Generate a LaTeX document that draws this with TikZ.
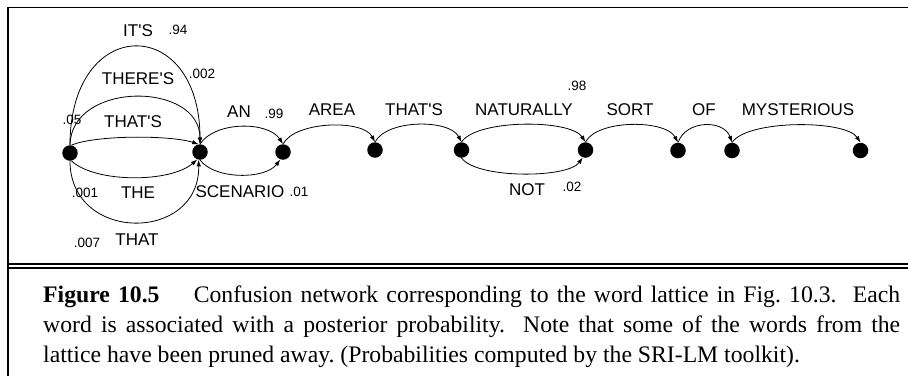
\documentclass[tikz,border=0pt]{standalone}
\usepackage{fontspec}
\setmainfont{Liberation Serif}
\newfontfamily\lblfont{Liberation Sans}
\usetikzlibrary{arrows.meta}
\frenchspacing
\begin{document}
\begin{tikzpicture}[x=1pt,y=-1pt,
  stn/.style={circle,fill=black,inner sep=0pt,minimum size=15.5pt},
  wd/.style={font=\lblfont\fontsize{17}{17}\selectfont,inner sep=0pt},
  pr/.style={font=\lblfont\fontsize{13.5}{13.5}\selectfont,inner sep=0pt},
  edg/.style={line width=0.8pt,-{Latex[length=6.5pt,width=4.5pt]}},
  rulel/.style={line width=1.9pt},
  captext/.style={font=\fontsize{23.7}{30}\selectfont,inner sep=0pt,anchor=base west}]
\useasboundingbox (0,0) rectangle (908,376);
% frame
\draw[rulel] (8,376) -- (8,7.5) -- (908,7.5);
\draw[rulel] (8,263.7) -- (908,263.7);
\draw[rulel] (8,267.8) -- (908,267.8);
% states
\node[stn] (n0) at (70,153) {};
\node[stn] (n1) at (200,152) {};
\node[stn] (n2) at (283,152) {};
\node[stn] (n3) at (375,150) {};
\node[stn] (n4) at (461.5,150) {};
\node[stn] (n5) at (585.5,150) {};
\node[stn] (n6) at (678,150.5) {};
\node[stn] (n7) at (732,150.5) {};
\node[stn] (n8) at (860.5,150.5) {};
% edges n0 -> n1
\draw[edg] (n0.north) .. controls (70,14) and (200,14) .. (n1.north);
\draw[edg] (n0.north) .. controls (71,81) and (200,81) .. (n1.north);
\draw[edg] (n0.80) .. controls (95,135) and (170,135) .. (n1.100);
\draw[edg] (n0.-80) .. controls (95,183) and (170,183) .. (n1.-110);
\draw[edg] (n0.south) .. controls (70,243) and (200,243) .. (n1.-100);
% edges n1 -> n2
\draw[edg] (n1.north) .. controls +(15,-23) and +(-15,-23) .. (n2.north);
\draw[edg] (n1.south) .. controls +(15,20) and +(-15,20) .. (n2.-110);
% chain
\draw[edg] (n2.north) .. controls +(12,-23) and +(-12,-23) .. (n3.north);
\draw[edg] (n3.north) .. controls +(12,-23) and +(-12,-23) .. (n4.north);
\draw[edg] (n4.north) .. controls +(15,-23) and +(-15,-23) .. (n5.north);
\draw[edg] (n4.south) .. controls +(15,21) and +(-15,21) .. (n5.-110);
\draw[edg] (n5.north) .. controls +(12,-23) and +(-12,-23) .. (n6.north);
\draw[edg] (n6.north) .. controls +(8,-23) and +(-8,-23) .. (n7.north);
\draw[edg] (n7.north) .. controls +(15,-23) and +(-15,-23) .. (n8.north);
% word labels
\node[wd] (w1) at (138,30.5) {IT'S};
\node[pr] (p1) at (178,30) {.94};
\node[wd] (w2) at (138,79) {THERE'S};
\node[pr] (p2) at (202,74) {.002};
\node[pr] (p3) at (72,120) {.05};
\node[wd] (w3) at (133,122) {THAT'S};
\node[pr] (p4) at (85,193) {.001};
\node[wd] (w4) at (138,193) {THE};
\node[pr] (p5) at (87,243) {.007};
\node[wd] (w5) at (137,240) {THAT};
\node[wd] (w6) at (239,112) {AN};
\node[pr] (p6) at (274,114) {.99};
\node[wd] (w7) at (240,192) {SCENARIO};
\node[pr] (p7) at (299,192) {.01};
\node[wd] (w8) at (332,110) {AREA};
\node[wd] (w9) at (414,110) {THAT'S};
\node[wd] (w10) at (524,110) {NATURALLY};
\node[pr] (p8) at (577,85.5) {.98};
\node[wd] (w11) at (527,190) {NOT};
\node[pr] (p9) at (572,187) {.02};
\node[wd] (w12) at (630,110) {SORT};
\node[wd] (w13) at (704,110) {OF};
\node[wd] (w14) at (798,110) {MYSTERIOUS};
% caption
\node[captext] (c1) at (43,302) {\makebox[857pt][s]{\textbf{Figure 10.5}\hspace{1.1em} Confusion network corresponding to the word lattice in Fig. 10.3.\ \ Each}};
\node[captext] (c2) at (43,332) {\makebox[857pt][s]{word is associated with a posterior probability.\ \ Note that some of the words from the}};
\node[captext] (c3) at (43,362) {lattice have been pruned away. (Probabilities computed by the SRI-LM toolkit).};
\end{tikzpicture}
\end{document}
